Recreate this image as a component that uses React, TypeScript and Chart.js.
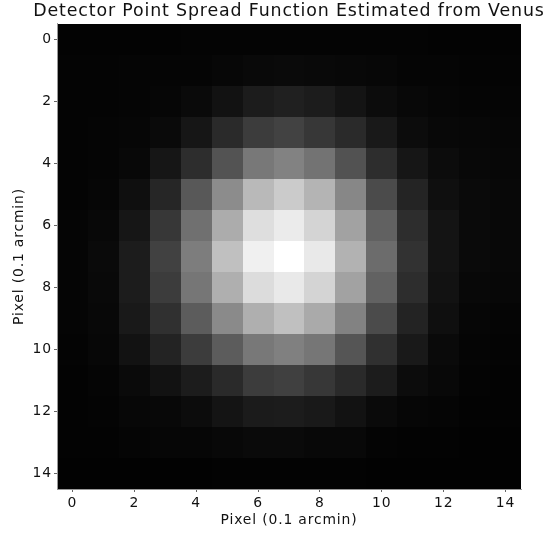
import React, { useEffect, useRef } from "react";
import { Chart, registerables } from "chart.js";

Chart.register(...registerables);

const chartTitle = "Detector Point Spread Function Estimated from Venus";
const xAxisLabel = "Pixel (0.1 arcmin)";
const yAxisLabel = "Pixel (0.1 arcmin)";
const xTickValues = [0, 2, 4, 6, 8, 10, 12, 14];
const yTickValues = [0, 2, 4, 6, 8, 10, 12, 14];

// PSF intensity per pixel (gray level 0..255), row = y pixel, column = x pixel
const row00 = [3, 3, 3, 3, 4, 4, 4, 4, 4, 4, 4, 4, 3, 3, 3];
const row01 = [4, 4, 5, 5, 5, 7, 9, 10, 9, 8, 7, 5, 5, 4, 4];
const row02 = [4, 4, 5, 6, 10, 18, 28, 32, 28, 20, 12, 8, 6, 5, 5];
const row03 = [4, 5, 6, 10, 22, 42, 60, 66, 55, 42, 25, 12, 8, 7, 6];
const row04 = [4, 5, 8, 22, 45, 83, 120, 130, 115, 82, 45, 22, 12, 8, 7];
const row05 = [4, 6, 15, 38, 88, 140, 185, 203, 180, 135, 75, 36, 15, 10, 8];
const row06 = [5, 8, 22, 55, 112, 172, 222, 235, 212, 162, 97, 45, 20, 10, 8];
const row07 = [5, 10, 28, 65, 125, 192, 240, 255, 233, 178, 108, 50, 20, 10, 8];
const row08 = [5, 9, 28, 60, 118, 175, 220, 233, 212, 162, 98, 45, 18, 8, 7];
const row09 = [5, 8, 25, 48, 92, 138, 175, 192, 170, 130, 75, 35, 15, 6, 5];
const row10 = [4, 7, 18, 35, 60, 92, 120, 128, 118, 85, 48, 25, 10, 5, 4];
const row11 = [3, 5, 10, 18, 28, 42, 60, 64, 55, 42, 28, 12, 8, 4, 3];
const row12 = [3, 4, 7, 8, 12, 20, 27, 28, 25, 18, 10, 6, 5, 3, 3];
const row13 = [3, 3, 5, 6, 6, 8, 10, 10, 8, 8, 4, 3, 3, 2, 2];
const row14 = [2, 2, 2, 2, 2, 3, 3, 3, 3, 3, 2, 2, 2, 2, 2];

const psfRows = [
  row00, row01, row02, row03, row04, row05, row06, row07,
  row08, row09, row10, row11, row12, row13, row14,
];

const FONT = "'DejaVu Sans', sans-serif";
const LETTER_SPACING = "0.85px";

const letterSpacingPlugin = {
  id: "letterSpacing",
  beforeUpdate(chart: any) {
    (chart.ctx as any).letterSpacing = LETTER_SPACING;
  },
  beforeLayout(chart: any) {
    (chart.ctx as any).letterSpacing = LETTER_SPACING;
  },
  afterLayout(chart: any) {
    // keep the title centred over the plot area but let it use the full canvas width
    const t = chart.titleBlock;
    if (t) {
      const c = (chart.chartArea.left + chart.chartArea.right) / 2;
      const half = chart.width / 2;
      t.left = c - half;
      t.right = c + half;
      t.width = chart.width;
    }
  },
  beforeDraw(chart: any) {
    (chart.ctx as any).letterSpacing = LETTER_SPACING;
  },
};

const heatmapPlugin = {
  id: "heatmapCells",
  beforeDatasetsDraw(chart: any) {
    const { ctx, chartArea, scales } = chart;
    const xs = scales.x;
    const ys = scales.y;
    const pts = chart.data.datasets[0].data as { x: number; y: number; v: number }[];
    ctx.save();
    ctx.beginPath();
    ctx.rect(chartArea.left, chartArea.top, chartArea.right - chartArea.left, chartArea.bottom - chartArea.top);
    ctx.clip();
    for (const p of pts) {
      const xa = Math.round(xs.getPixelForValue(p.x - 0.5));
      const xb = Math.round(xs.getPixelForValue(p.x + 0.5));
      const ya = Math.round(ys.getPixelForValue(p.y - 0.5));
      const yb = Math.round(ys.getPixelForValue(p.y + 0.5));
      const g = Math.max(0, Math.min(255, Math.round(p.v)));
      ctx.fillStyle = `rgb(${g},${g},${g})`;
      ctx.fillRect(Math.min(xa, xb), Math.min(ya, yb), Math.abs(xb - xa), Math.abs(yb - ya));
    }
    ctx.restore();
  },
};

export default function App() {
  const canvasRef = useRef<HTMLCanvasElement | null>(null);

  useEffect(() => {
    if (!canvasRef.current) return;
    const cells: { x: number; y: number; v: number }[] = [];
    psfRows.forEach((row, r) => row.forEach((v, c) => cells.push({ x: c, y: r, v })));

    const tickFont = { family: FONT, size: 13.9 };
    const chart = new Chart(canvasRef.current, {
      type: "scatter",
      data: {
        datasets: [
          {
            data: cells as any,
            pointRadius: 0,
            pointHoverRadius: 0,
          },
        ],
      },
      plugins: [letterSpacingPlugin, heatmapPlugin],
      options: {
        animation: false,
        responsive: true,
        maintainAspectRatio: false,
        events: [],
        layout: { padding: { left: 0, right: 25, top: 0, bottom: 0 } },
        plugins: {
          legend: { display: false },
          tooltip: { enabled: false },
          title: {
            display: true,
            text: chartTitle,
            fullSize: false,
            color: "#111",
            font: { family: FONT, size: 17.4, weight: "normal" as any },
            padding: { top: 1.5, bottom: 1.6 },
          },
        },
        scales: {
          x: {
            type: "linear",
            min: -0.5,
            max: 14.5,
            afterBuildTicks: (s: any) => {
              s.ticks = xTickValues.map((value) => ({ value }));
            },
            afterFit: (s: any) => {
              s.height = 47;
            },
            ticks: {
              autoSkip: false,
              maxRotation: 0,
              padding: 3,
              color: "#111",
              font: tickFont,
            },
            grid: {
              drawOnChartArea: false,
              drawTicks: true,
              tickLength: 3,
              color: "#666",
            },
            border: { display: true, color: "#999", width: 1, z: 1 },
            title: {
              display: true,
              text: xAxisLabel,
              color: "#111",
              font: tickFont,
              padding: { top: 0, bottom: 7.7 },
            },
          },
          y: {
            type: "linear",
            reverse: true,
            min: -0.5,
            max: 14.5,
            afterBuildTicks: (s: any) => {
              s.ticks = yTickValues.map((value) => ({ value }));
            },
            afterFit: (s: any) => {
              s.width = 57;
            },
            ticks: {
              autoSkip: false,
              padding: 2,
              color: "#111",
              font: tickFont,
            },
            grid: {
              drawOnChartArea: false,
              drawTicks: true,
              tickLength: 3,
              color: "#666",
            },
            border: { display: true, color: "#999", width: 1, z: 1 },
            title: {
              display: true,
              text: yAxisLabel,
              color: "#111",
              font: tickFont,
              padding: { top: 10.7, bottom: 0 },
            },
          },
        },
      } as any,
    });
    return () => chart.destroy();
  }, []);

  return (
    <div style={{ position: "absolute", left: 0, top: 0, width: 546, height: 536, background: "#fff" }}>
      <canvas ref={canvasRef} />
    </div>
  );
}
